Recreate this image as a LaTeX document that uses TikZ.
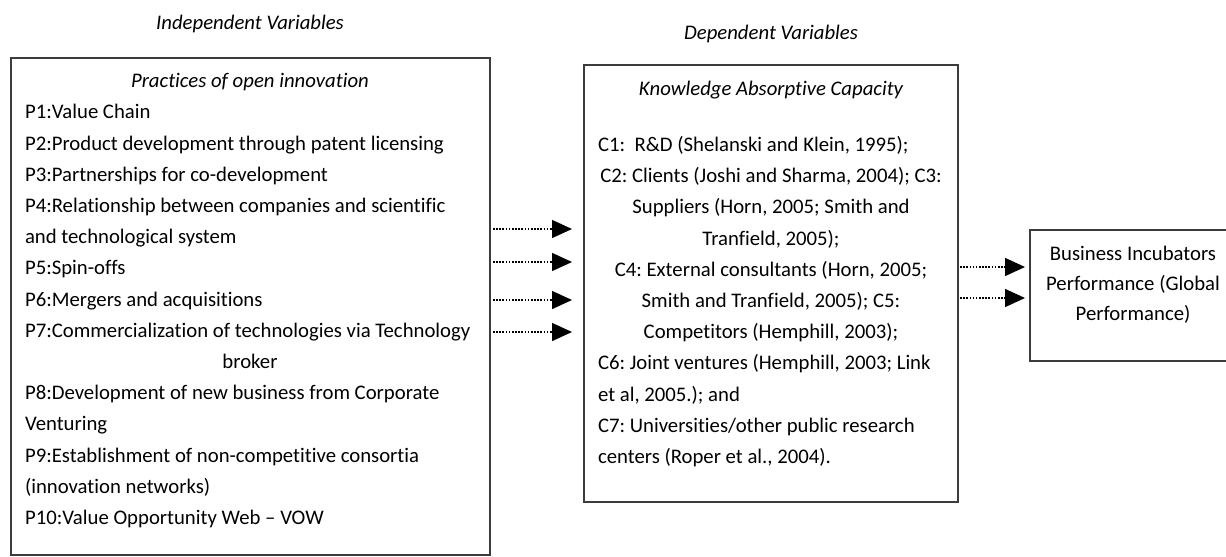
\documentclass[tikz,border=0pt]{standalone}
\usepackage{fontspec}
\setmainfont{Carlito}[Ligatures=NoCommon]
\usetikzlibrary{arrows.meta,positioning}
\definecolor{boxline}{HTML}{3C3C3C}

\begin{document}
\begin{tikzpicture}[x=0.02cm,y=-0.02cm,>={Triangle[length=0.4cm,width=0.36cm]},
    box/.style={draw=boxline,line width=0.9pt,rectangle,inner sep=0pt},
    txt/.style={inner sep=0pt,align=left,font=\fontsize{11.8}{17.76}\selectfont\frenchspacing},
    flow/.style={->,line width=0.8pt,dash pattern=on 0.9pt off 0.9pt}]

    \useasboundingbox (0,0) rectangle (1226,557);

    % headings
    \node[txt] (indep) at (250,24) {\itshape Independent Variables};
    \node[txt] (dep) at (771,34) {\itshape Dependent Variables};

    % boxes
    \node[box, minimum width=9.58cm, minimum height=9.94cm] (practices) at (250.5,306.5) {};
    \node[box, minimum width=7.48cm, minimum height=8.74cm] (kac) at (771,283.5) {};
    \node[box, minimum width=4.12cm, minimum height=2.62cm] (perf) at (1133,295.5) {};

    % text of the left box
    \node[txt, anchor=north] (practxt) at (250,73) {%
        \makebox[9cm]{\itshape Practices of open innovation}\\
        P1:Value Chain\\
        P2:Product development through patent licensing\\
        P3:Partnerships for co-development\\
        P4:Relationship between companies and scientific\\
        and technological system\\
        P5:Spin-offs\\
        P6:Mergers and acquisitions\\
        P7:Commercialization of technologies via Technology\\
        \makebox[9cm]{broker}\\
        P8:Development of new business from Corporate\\
        Venturing\\
        P9:Establishment of non-competitive consortia\\
        (innovation networks)\\
        P10:Value Opportunity Web -- VOW};

    % text of the middle box
    \node[txt, anchor=north] (kactitle) at (771,81) {\itshape Knowledge Absorptive Capacity};
    \node[txt, anchor=north] (kactxt) at (771,136) {%
        \makebox[6.92cm][l]{C1:\ \ R\&D (Shelanski and Klein, 1995);}\\
        \makebox[6.92cm]{C2: Clients (Joshi and Sharma, 2004); C3:}\\
        \makebox[6.92cm]{Suppliers (Horn, 2005; Smith and}\\
        \makebox[6.92cm]{Tranfield, 2005);}\\
        \makebox[6.92cm]{C4: External consultants (Horn, 2005;}\\
        \makebox[6.92cm]{Smith and Tranfield, 2005); C5:}\\
        \makebox[6.92cm]{Competitors (Hemphill, 2003);}\\
        C6: Joint ventures (Hemphill, 2003; Link\\
        et al, 2005.); and\\
        C7: Universities/other public research\\
        centers (Roper et al., 2004).};

    % text of the right box
    \node[txt, align=center, font=\fontsize{11.8}{17}\selectfont\frenchspacing] (perftxt) at (1133,285) {%
        Business Incubators\\
        Performance (Global\\
        Performance)};

    % arrows
    \foreach \yy [count=\i] in {229,262,300,332}{
        \coordinate (pa\i) at (493,\yy);
        \coordinate (pb\i) at (572,\yy);
        \draw[flow] (pa\i) -- (pb\i);
    }
    \foreach \yy [count=\i] in {267,298}{
        \coordinate (ka\i) at (960,\yy);
        \coordinate (kb\i) at (1025,\yy);
        \draw[flow] (ka\i) -- (kb\i);
    }

\end{tikzpicture}
\end{document}
